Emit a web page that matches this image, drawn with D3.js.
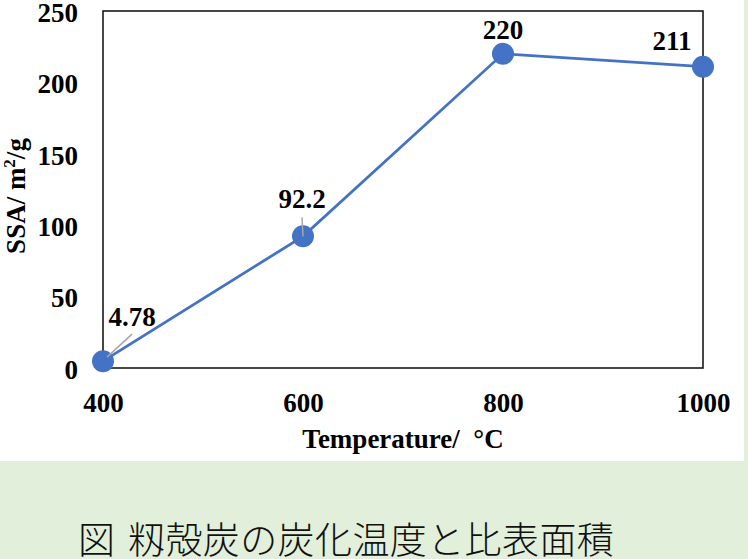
<!DOCTYPE html>
<html>
<head>
<meta charset="utf-8">
<script src="https://cdn.jsdelivr.net/npm/d3@7"></script>
<style>
  html, body { margin: 0; padding: 0; background: #E2EFDA; }
  svg { display: block; }
</style>
</head>
<body>
<svg id="chart" width="748" height="559"></svg>
<script>
// ---- data ----
const temps = [400, 600, 800, 1000];
const ssa = [4.78, 92.2, 220, 211];
const valueLabels = ["4.78", "92.2", "220", "211"];
const xTickValues = [400, 600, 800, 1000];
const yTickValues = [0, 50, 100, 150, 200, 250];
const xTitle = "Temperature/  °C";
const captionHead = "図";
const captionBody = "籾殻炭の炭化温度と比表面積";

// ---- layout ----
const plot = { left: 103, right: 703, top: 11, bottom: 368 };
const serif = "'Liberation Serif', 'Times New Roman', serif";

const svg = d3.select("#chart");

// white chart area
svg.append("rect").attr("x", 0).attr("y", 0).attr("width", 744).attr("height", 461).attr("fill", "#ffffff");

const x = d3.scaleLinear().domain([400, 1000]).range([plot.left, plot.right]);
const y = d3.scaleLinear().domain([0, 250]).range([plot.bottom, plot.top]);

// plot border
svg.append("rect")
  .attr("x", plot.left).attr("y", plot.top)
  .attr("width", plot.right - plot.left).attr("height", plot.bottom - plot.top)
  .attr("fill", "none").attr("stroke", "#1a1a1a").attr("stroke-width", 1.6);

// y axis
const yAxis = svg.append("g")
  .attr("transform", `translate(${plot.left},0)`)
  .call(d3.axisLeft(y).tickValues(yTickValues).tickSize(0).tickPadding(25).tickFormat(d3.format("d")));
yAxis.select(".domain").remove();
yAxis.selectAll("text")
  .attr("dy", "0.38em")
  .attr("font-family", serif).attr("font-weight", "bold").attr("font-size", 27).attr("fill", "#000");

// x axis
const xAxis = svg.append("g")
  .attr("transform", `translate(0,${plot.bottom})`)
  .call(d3.axisBottom(x).tickValues(xTickValues).tickSize(0).tickPadding(25).tickFormat(d3.format("d")));
xAxis.select(".domain").remove();
xAxis.selectAll("text")
  .attr("font-family", serif).attr("font-weight", "bold").attr("font-size", 27).attr("fill", "#000");

// axis titles
svg.append("text")
  .attr("x", 403).attr("y", 448)
  .attr("text-anchor", "middle")
  .attr("font-family", serif).attr("font-weight", "bold").attr("font-size", 27)
  .style("white-space", "pre")
  .text(xTitle);

const yt = svg.append("text")
  .attr("transform", "translate(25,196) rotate(-90)")
  .attr("text-anchor", "middle")
  .attr("font-family", serif).attr("font-weight", "bold").attr("font-size", 27);
yt.append("tspan").text("SSA/ m");
yt.append("tspan").attr("font-size", 17).attr("dy", -10).text("2");
yt.append("tspan").attr("dy", 10).text("/g");

// line
const pts = temps.map((t, i) => ({ t, v: ssa[i], label: valueLabels[i] }));
svg.append("path")
  .datum(pts)
  .attr("fill", "none").attr("stroke", "#4472C4").attr("stroke-width", 2.8)
  .attr("d", d3.line().x(d => x(d.t)).y(d => y(d.v)));

// label offsets (relative to point)
const labelOffsets = [
  { dx: 29, dy: -35, leader: [[4, -4], [29, -27]] },
  { dx: -1, dy: -28, leader: [[0, 0], [-1, -19]] },
  { dx: 0, dy: -15, leader: null },
  { dx: -31, dy: -17, leader: null }
];

// points
svg.selectAll("circle.pt")
  .data(pts).enter().append("circle")
  .attr("class", "pt")
  .attr("cx", d => x(d.t)).attr("cy", d => y(d.v)).attr("r", 11)
  .attr("fill", "#4472C4");

// leader lines
pts.forEach((d, i) => {
  const o = labelOffsets[i];
  if (!o.leader) return;
  svg.append("line")
    .attr("x1", x(d.t) + o.leader[0][0]).attr("y1", y(d.v) + o.leader[0][1])
    .attr("x2", x(d.t) + o.leader[1][0]).attr("y2", y(d.v) + o.leader[1][1])
    .attr("stroke", "#a6a6a6").attr("stroke-width", 1.5);
});

// value labels
svg.selectAll("text.vl")
  .data(pts).enter().append("text")
  .attr("class", "vl")
  .attr("x", (d, i) => x(d.t) + labelOffsets[i].dx)
  .attr("y", (d, i) => y(d.v) + labelOffsets[i].dy)
  .attr("text-anchor", "middle")
  .attr("font-family", serif).attr("font-weight", "bold").attr("font-size", 27)
  .text(d => d.label);

// caption
const cap = svg.append("text")
  .attr("y", 554)
  .attr("font-family", "'Noto Sans CJK JP', sans-serif").attr("font-weight", 300).attr("font-size", 37)
  .attr("fill", "#111");
cap.append("tspan").attr("x", 78).text(captionHead);
cap.append("tspan").attr("x", 128).attr("letter-spacing", 0.4).text(captionBody);
</script>
</body>
</html>
